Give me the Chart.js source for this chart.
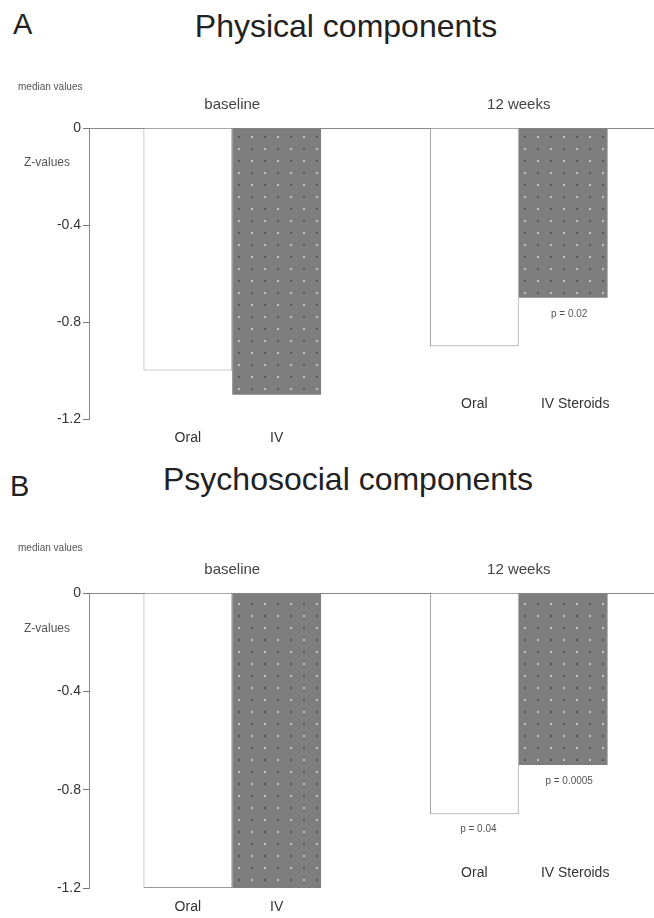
<!DOCTYPE html>
<html>
<head>
<meta charset="utf-8">
<script src="https://cdn.jsdelivr.net/npm/chart.js@4.4.1/dist/chart.umd.min.js"></script>
<style>
  html, body { margin: 0; padding: 0; background: #fff; width: 654px; height: 918px; overflow: hidden; }
  body { position: relative; font-family: "Liberation Sans", Arial, sans-serif; color: #222; }
  .panel { position: absolute; left: 0; }
  .letter { position: absolute; font-size: 29px; line-height: 29px; color: #222; }
  .title { position: absolute; font-size: 32px; line-height: 32px; color: #222; white-space: nowrap; transform: translateX(-50%); }
</style>
</head>
<body>
<div class="letter" style="left:13px; top:10px;">A</div>
<div class="title" style="left:346px; top:10px;">Physical components</div>
<div class="letter" style="left:10px; top:472px;">B</div>
<div class="title" style="left:348px; top:463px;">Psychosocial components</div>

<canvas id="physChart" class="panel" width="672" height="450" style="top:0px;"></canvas>
<canvas id="psychChart" class="panel" width="672" height="463" style="top:455px;"></canvas>

<script>
// data (median z-values)
const groups = ['baseline', '12 weeks'];
const yTicks = [0, -0.4, -0.8, -1.2];

const physOral = [-1.0, -0.9];
const physIV = [-1.1, -0.7];
const psychOral = [-1.2, -0.9];
const psychIV = [-1.2, -0.7];

const oralNames = ['Oral', 'Oral'];
const ivNames = ['IV', 'IV Steroids'];

const physPOral = ['', ''];
const physPIV = ['', 'p = 0.02'];
const psychPOral = ['', 'p = 0.04'];
const psychPIV = ['', 'p = 0.0005'];

const FONT = '"Liberation Sans", Arial, sans-serif';

// dotted grey fill for the IV bars
function dotPattern() {
    const c = document.createElement('canvas');
    c.width = 26; c.height = 24;
    const g = c.getContext('2d');
    g.fillStyle = '#7e7e7e';
    g.fillRect(0, 0, 26, 24);
    g.fillStyle = '#c2c2c2';
    g.fillRect(4, 4, 2, 2);
    g.fillRect(17, 16, 2, 2);
    g.fillStyle = '#565656';
    g.fillRect(17, 4, 2, 2);
    g.fillRect(4, 16, 2, 2);
    return g.createPattern(c, 'repeat');
}

// extra labels: axis captions, bar names, p-values
function annotations(medianY, pOral, pIV) {
    return {
        id: 'annotations',
        afterDraw(chart) {
            const { ctx, chartArea, scales } = chart;
            ctx.save();
            ctx.fillStyle = '#555';
            ctx.textBaseline = 'middle';
            ctx.font = '10px ' + FONT;
            ctx.textAlign = 'left';
            ctx.fillText('median values', 18, medianY);
            ctx.font = '12px ' + FONT;
            ctx.textAlign = 'right';
            ctx.fillText('Z-values', 70, scales.y.getPixelForValue(-0.145));

            const oral = chart.getDatasetMeta(0).data;
            const iv = chart.getDatasetMeta(1).data;
            ctx.textAlign = 'center';
            ctx.fillStyle = '#333';
            ctx.font = '14px ' + FONT;
            for (let i = 0; i < groups.length; i++) {
                const y = i === 0 ? chartArea.bottom + 19 : scales.y.getPixelForValue(-1.14);
                ctx.fillText(oralNames[i], oral[i].x, y);
                ctx.fillText(ivNames[i], iv[i].x + (i === 0 ? 0 : 12), y);
            }
            ctx.font = '10px ' + FONT;
            ctx.fillStyle = '#555';
            for (let i = 0; i < groups.length; i++) {
                if (pOral[i]) ctx.fillText(pOral[i], oral[i].x + 4, oral[i].y + 15);
                if (pIV[i]) ctx.fillText(pIV[i], iv[i].x + 6, iv[i].y + 16);
            }
            ctx.restore();
        }
    };
}

function makeChart(id, oralData, ivData, padTop, padBottom, medianY, pOral, pIV) {
    return new Chart(document.getElementById(id), {
        type: 'bar',
        data: {
            labels: groups,
            datasets: [{
                label: 'Oral',
                data: oralData,
                backgroundColor: '#ffffff',
                borderColor: '#9a9a9a',
                borderWidth: 1,
                borderSkipped: 'start',
            }, {
                label: 'IV',
                data: ivData,
                backgroundColor: dotPattern(),
                borderWidth: 0,
            }]
        },
        options: {
            responsive: false,
            animation: false,
            layout: { padding: { top: padTop, bottom: padBottom, left: 0, right: 10 } },
            datasets: { bar: { barPercentage: 1, categoryPercentage: 0.62 } },
            plugins: { legend: { display: false }, tooltip: { enabled: false }, title: { display: false } },
            scales: {
                x: {
                    position: 'top',
                    grid: { display: false, drawTicks: false },
                    border: { display: false },
                    ticks: { color: '#444', font: { family: FONT, size: 15 }, padding: 14 },
                    afterFit(scale) { scale.height = 48; }
                },
                y: {
                    min: -1.2,
                    max: 0,
                    afterBuildTicks(scale) { scale.ticks = yTicks.map(v => ({ value: v })); },
                    afterFit(scale) { scale.width = 89; },
                    grid: {
                        color: c => c.tick && c.tick.value === 0 ? '#8a8a8a' : 'rgba(0,0,0,0)',
                        drawTicks: true,
                        tickColor: '#777',
                        tickLength: 6,
                    },
                    border: { display: true, color: '#8a8a8a', width: 1 },
                    ticks: {
                        color: '#333',
                        padding: 2,
                        font: { family: FONT, size: 14 },
                        callback: v => String(v)
                    }
                }
            }
        },
        plugins: [annotations(medianY, pOral, pIV)]
    });
}

makeChart('physChart', physOral, physIV, 80, 31, 87, physPOral, physPIV);
makeChart('psychChart', psychOral, psychIV, 90, 30, 93, psychPOral, psychPIV);
</script>
</body>
</html>
